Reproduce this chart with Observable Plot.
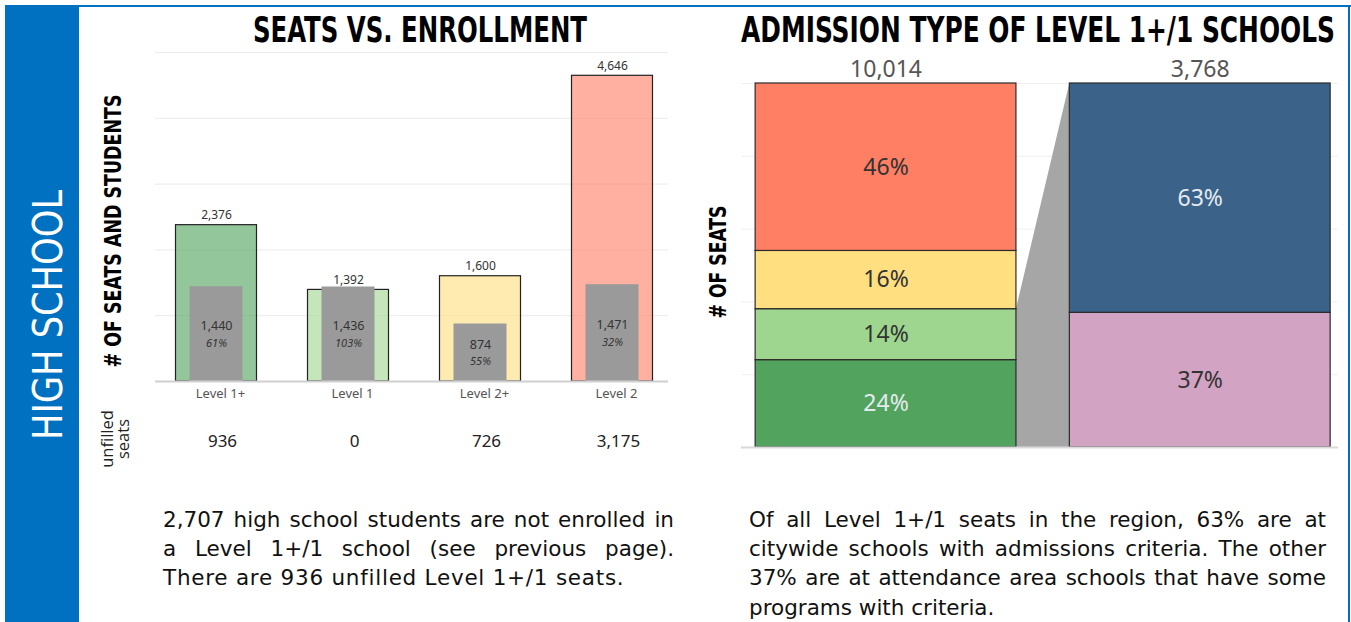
<!DOCTYPE html>
<html>
<head>
<meta charset="utf-8">
<script src="https://cdn.jsdelivr.net/npm/d3@7"></script>
<script src="https://cdn.jsdelivr.net/npm/@observablehq/plot@0.6"></script>
<style>
  html, body { margin: 0; padding: 0; background: #fff; }
  #page { position: relative; width: 1351px; height: 622px; overflow: hidden; background: #fff; }
  .abs { position: absolute; }
  #topline { left: 5px; top: 5px; width: 1346px; height: 2px; background: #0070c0; }
  #rightline { left: 1348px; top: 5px; width: 2px; height: 617px; background: #0070c0; }
  #sidebar { left: 5px; top: 5px; width: 74px; height: 617px; background: #0070c0; }
  #leftChart { left: 140px; top: 40px; }
  #rightChart { left: 740px; top: 40px; }
  #overlay { left: 0; top: 0; z-index: 5; pointer-events: none; }
  .para { font-family: "DejaVu Sans", sans-serif; font-size: 21.5px; color: #111; line-height: 29.2px; }
  .para div { white-space: nowrap; }
  .para .j { text-align: justify; text-align-last: justify; }
  #leftText { left: 163px; top: 505px; width: 511px; }
  #rightText { left: 749px; top: 505px; width: 577px; }
  .cond { font-family: "Liberation Sans Narrow", "DejaVu Sans Condensed", "Liberation Sans", sans-serif; }
</style>
</head>
<body>
<div id="page">
  <div id="sidebar" class="abs"></div>
  <div id="topline" class="abs"></div>
  <div id="rightline" class="abs"></div>
  <div id="leftChart" class="abs"></div>
  <div id="rightChart" class="abs"></div>
  <svg id="overlay" class="abs" width="1351" height="622">
    <text class="cond" transform="translate(420,42) scale(1,1.2)" text-anchor="middle" font-weight="bold" font-size="29" textLength="334" lengthAdjust="spacingAndGlyphs" fill="#000">SEATS VS. ENROLLMENT</text>
    <text class="cond" transform="translate(1038,42) scale(1,1.32)" text-anchor="middle" font-weight="bold" font-size="26.5" textLength="594" lengthAdjust="spacingAndGlyphs" fill="#000">ADMISSION TYPE OF LEVEL 1+/1 SCHOOLS</text>
    <text class="cond" transform="translate(121,231) rotate(-90)" text-anchor="middle" font-weight="bold" font-size="23" textLength="273" lengthAdjust="spacingAndGlyphs" fill="#000"># OF SEATS AND STUDENTS</text>
    <text class="cond" transform="translate(726,262) rotate(-90)" text-anchor="middle" font-weight="bold" font-size="23" textLength="113" lengthAdjust="spacingAndGlyphs" fill="#000"># OF SEATS</text>
    <text class="cond" transform="translate(62,315) rotate(-90)" text-anchor="middle" font-size="40" textLength="250" lengthAdjust="spacingAndGlyphs" fill="#fff">HIGH SCHOOL</text>
    <text transform="translate(113,439) rotate(-90)" text-anchor="middle" font-family="Open Sans, sans-serif" font-size="16.5" fill="#222">unfilled</text>
    <text transform="translate(129,439) rotate(-90)" text-anchor="middle" font-family="Open Sans, sans-serif" font-size="16.5" fill="#222">seats</text>
  </svg>
  <div id="leftText" class="abs para">
    <div class="j">2,707 high school students are not enrolled in</div>
    <div class="j">a Level 1+/1 school (see previous page).</div>
    <div style="letter-spacing: 0.75px">There are 936 unfilled Level 1+/1 seats.</div>
  </div>
  <div id="rightText" class="abs para">
    <div class="j">Of all Level 1+/1 seats in the region, 63% are at</div>
    <div class="j">citywide schools with admissions criteria. The other</div>
    <div class="j">37% are at attendance area schools that have some</div>
    <div>programs with criteria.</div>
  </div>
</div>
<script>
// ---------- DATA ----------
const levels = ["Level 1+", "Level 1", "Level 2+", "Level 2"];
const seats = [2376, 1392, 1600, 4646];
const enrolled = [1440, 1436, 874, 1471];

// Admission chart: left bar = all seats by level (bottom to top), right bar = Level 1+/1 seats by admission type
const barTotals = [10014, 3768];
const levelShares = [24, 14, 16, 46];
const admissionTypes = ["Attendance area (some programs with criteria)", "Citywide with admissions criteria"];
const admissionShares = [37, 63];

// ---------- STYLES ----------
const levelPalette = ["#52a35e", "#9fd68f", "#ffdf80", "#ff7f65"];
const admissionPalette = ["#d3a3c4", "#3b6289"];
const chartFont = "'Noto Sans', 'Open Sans', sans-serif";
const fmt = d3.format(",");

// ---------- LEFT CHART ----------
const rows = levels.map((level, i) => ({
  level,
  seats: seats[i],
  enrolled: enrolled[i],
  unfilled: Math.max(0, seats[i] - enrolled[i]),
  pct: Math.round(enrolled[i] / seats[i] * 100)
}));

const left = Plot.plot({
  width: 545, height: 420,
  marginTop: 12, marginBottom: 79, marginLeft: 8, marginRight: 6,
  x: {domain: levels, padding: 0, axis: null},
  y: {domain: [0, 5000], axis: null},
  color: {domain: levels, range: levelPalette},
  style: {fontFamily: chartFont, background: "transparent", overflow: "visible"},
  marks: [
    Plot.ruleY([1000, 2000, 3000, 4000, 5000], {stroke: "#ebebeb", insetLeft: 7, insetRight: 11}),
    Plot.barY(rows, {x: "level", y: "seats", fill: "level", fillOpacity: 0.62, stroke: "#222", strokeWidth: 1.2, insetLeft: 25.5, insetRight: 25.5}),
    Plot.barY(rows, {x: "level", y: "enrolled", fill: "#9a9a9a", insetLeft: 39.5, insetRight: 39.5}),
    Plot.ruleY([0], {stroke: "#d0d0d0", strokeWidth: 2, insetLeft: 7, insetRight: 11}),
    Plot.text(rows, {x: "level", y: "seats", text: d => fmt(d.seats), dy: -10, fontSize: 12, fill: "#333"}),
    Plot.text(rows, {x: "level", y: d => d.enrolled / 2, text: d => fmt(d.enrolled), dy: -8, fontSize: 12.5, fill: "#333"}),
    Plot.text(rows, {x: "level", y: d => d.enrolled / 2, text: d => d.pct + "%", dy: 9, fontSize: 11, fontStyle: "italic", fill: "#333"}),
    Plot.text(rows, {x: "level", text: "level", frameAnchor: "bottom", dy: 16, dx: 4, fontSize: 13, fill: "#555"}),
    Plot.text(rows, {x: "level", text: d => fmt(d.unfilled), frameAnchor: "bottom", dy: 65, dx: 6, fontSize: 17, fill: "#222"})
  ]
});
document.getElementById("leftChart").appendChild(left);

// ---------- RIGHT CHART ----------
const halfWidth = 0.415;
function stackSegments(bar, keys, shares, lightText) {
  const ends = d3.cumsum(shares);
  return keys.map((key, i) => ({
    bar, key, share: shares[i],
    y1: ends[i] - shares[i], y2: ends[i],
    light: lightText[i]
  }));
}
const segs = [
  ...stackSegments(0, levels, levelShares, [true, false, false, false]),
  ...stackSegments(1, admissionTypes, admissionShares, [false, true])
];
const connector = [
  {x: 0 + halfWidth, y: levelShares[0] + levelShares[1]},
  {x: 1 - halfWidth, y: d3.sum(admissionShares)}
];
const totals = barTotals.map((total, bar) => ({bar, total}));

const right = Plot.plot({
  width: 600, height: 420,
  marginTop: 43, marginBottom: 13, marginLeft: 1, marginRight: 2,
  x: {domain: [-0.46, 1.44], axis: null},
  y: {domain: [0, 100], axis: null},
  color: {domain: [...levels, ...admissionTypes], range: [...levelPalette, ...admissionPalette]},
  style: {fontFamily: chartFont, background: "transparent", overflow: "visible"},
  marks: [
    Plot.ruleY([20, 40, 60, 80, 100], {stroke: "#f0f0f0"}),
    Plot.areaY(connector, {x: "x", y1: 0, y2: "y", fill: "#a6a6a6"}),
    Plot.rect(segs, {x1: d => d.bar - halfWidth, x2: d => d.bar + halfWidth, y1: "y1", y2: "y2", fill: "key", stroke: "#2a2a2a", strokeWidth: 1.2}),
    Plot.ruleY([0], {stroke: "#d9d9d9", strokeWidth: 2}),
    Plot.text(segs, {filter: d => !d.light, x: "bar", y: d => (d.y1 + d.y2) / 2, text: d => d.share + "%", fontSize: 23, fill: "#333"}),
    Plot.text(segs, {filter: d => d.light, x: "bar", y: d => (d.y1 + d.y2) / 2, text: d => d.share + "%", fontSize: 23, fill: "#e4ebf0"}),
    Plot.text(totals, {x: "bar", y: () => 100, text: d => fmt(d.total), dy: -14, fontSize: 23, fill: "#555"})
  ]
});
document.getElementById("rightChart").appendChild(right);
</script>
</body>
</html>
